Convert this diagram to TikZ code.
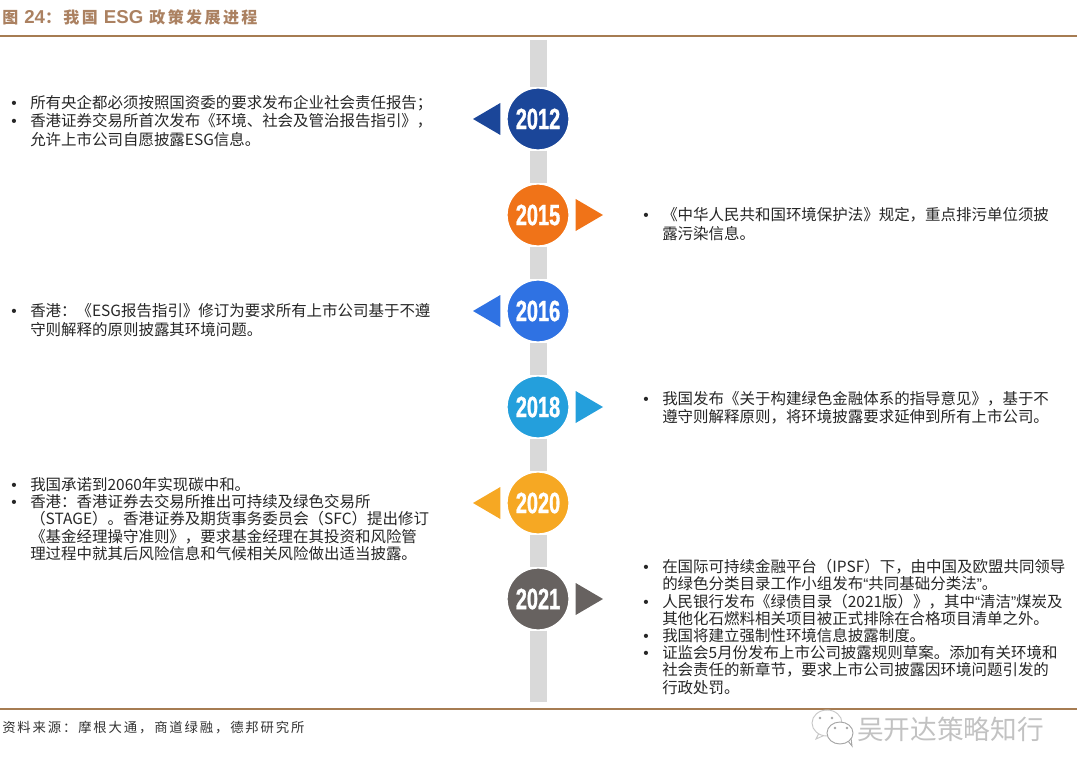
\documentclass[tikz,border=0pt]{standalone}
\usepackage{fontspec}
\setmainfont{Noto Sans CJK SC}
\newfontfamily\capfont[LetterSpace=15]{Noto Sans CJK SC}
\newfontfamily\srcfont[LetterSpace=14]{Noto Sans CJK SC}
\newfontfamily\latfont{Liberation Sans}
\newfontfamily\yearfont[FakeStretch=0.68,FakeBold=1,UprightFont={* Bold}]{Liberation Sans}
\usetikzlibrary{shapes.geometric, positioning}
\definecolor{c2012}{HTML}{1B4699}
\definecolor{c2015}{HTML}{F07318}
\definecolor{c2016}{HTML}{2F72E3}
\definecolor{c2018}{HTML}{249FDC}
\definecolor{c2020}{HTML}{F6A823}
\definecolor{c2021}{HTML}{676260}
\definecolor{railgray}{HTML}{D9D9D9}
\definecolor{rulebrown}{HTML}{A67C52}
\definecolor{titlebrown}{HTML}{AB8161}
\newcommand{\bul}{\makebox[12.75pt][l]{\hspace{-1.5pt}{\latfont •}}}
\newcommand{\cont}{\makebox[12.75pt][l]{}}
\newcommand{\ql}{{\latfont “}}
\newcommand{\qr}{{\latfont ”}}

\begin{document}
\begin{tikzpicture}[
  x=0.75pt, y=-0.75pt,
  node distance=24.5pt,
  year/.style={circle, draw=white, line width=2pt, minimum size=47.5pt, inner sep=0pt, outer sep=0pt, text=white, font=\yearfont\fontsize{22}{22}\selectfont},
  rail/.style={railgray, line width=12.75pt},
  tipl/.style={isosceles triangle, isosceles triangle stretches, shape border rotate=180, minimum width=24pt, minimum height=20.5pt, inner sep=0pt, outer sep=0pt},
  tipr/.style={isosceles triangle, isosceles triangle stretches, minimum width=24pt, minimum height=20.5pt, inner sep=0pt, outer sep=0pt},
  note/.style={anchor=west, align=left, inner sep=0pt, font=\fontsize{11.6}{13.8}\selectfont, text=black!85},
  notetight/.style={note, font=\fontsize{11.6}{12.9}\selectfont},
  rulebar/.style={rulebrown, line width=1.6pt},
  bubble/.style={fill=white, line width=0.7pt}
]
\useasboundingbox (0,0) rectangle (1080,777);
% header and footer
\node[anchor=west, inner sep=0pt, text=titlebrown, font=\capfont\fontsize{12}{14}\selectfont\bfseries] (title) at (2,17) {图 {\latfont\bfseries\fontsize{14}{14}\selectfont 24}：我国 {\latfont\bfseries\fontsize{14}{14}\selectfont ESG} 政策发展进程};
\coordinate (headl) at (0,36);
\coordinate (headr) at (1077,36);
\draw[rulebar] (headl) -- (headr);
\coordinate (footl) at (0,709);
\coordinate (footr) at (1077,709);
\draw[rulebar] (footl) -- (footr);
\node[anchor=west, inner sep=0pt, text=black!80, font=\srcfont\fontsize{10}{12}\selectfont] (source) at (2,728) {资料来源：摩根大通，商道绿融，德邦研究所};
% timeline
\node[year, fill=c2012] (y2012) at (538,119) {2012};
\node[year, fill=c2015, below=of y2012] (y2015) {2015};
\node[year, fill=c2016, below=of y2015] (y2016) {2016};
\node[year, fill=c2018, below=of y2016] (y2018) {2018};
\node[year, fill=c2020, below=of y2018] (y2020) {2020};
\node[year, fill=c2021, below=of y2020] (y2021) {2021};
\coordinate (railtop) at (538,40);
\coordinate (railend) at (538,702);
\draw[rail] (railtop) -- (y2012);
\draw[rail] (y2012) -- (y2015);
\draw[rail] (y2015) -- (y2016);
\draw[rail] (y2016) -- (y2018);
\draw[rail] (y2018) -- (y2020);
\draw[rail] (y2020) -- (y2021);
\draw[rail] (y2021) -- (railend);
\node[tipl, fill=c2012, left=4.5pt of y2012] (t2012) {};
\node[tipr, fill=c2015, right=4.5pt of y2015] (t2015) {};
\node[tipl, fill=c2016, left=4.5pt of y2016] (t2016) {};
\node[tipr, fill=c2018, right=4.5pt of y2018] (t2018) {};
\node[tipl, fill=c2020, left=4.5pt of y2020] (t2020) {};
\node[tipr, fill=c2021, right=4.5pt of y2021] (t2021) {};
% notes
\node[note] (n2012) at (13,121) {\bul 所有央企都必须按照国资委的要求发布企业社会责任报告；\\\bul 香港证券交易所首次发布《环境、社会及管治报告指引》，\\\cont 允许上市公司自愿披露ESG信息。};
\node[note] (n2015) at (645,224) {\bul 《中华人民共和国环境保护法》规定，重点排污单位须披\\\cont 露污染信息。};
\node[note] (n2016) at (13,320) {\bul 香港：《ESG报告指引》修订为要求所有上市公司基于不遵\\\cont 守则解释的原则披露其环境问题。};
\node[note] (n2018) at (645,408) {\bul 我国发布《关于构建绿色金融体系的指导意见》，基于不\\\cont 遵守则解释原则，将环境披露要求延伸到所有上市公司。};
\node[notetight] (n2020) at (13,519) {\bul 我国承诺到2060年实现碳中和。\\\bul 香港：香港证券去交易所推出可持续及绿色交易所\\\cont （STAGE）。香港证券及期货事务委员会（SFC）提出修订\\\cont 《基金经理操守准则》，要求基金经理在其投资和风险管\\\cont 理过程中就其后风险信息和气候相关风险做出适当披露。};
\node[notetight] (n2021) at (645,627) {\bul 在国际可持续金融平台（IPSF）下，由中国及欧盟共同领导\\\cont 的绿色分类目录工作小组发布\ql 共同基础分类法\qr 。\\\bul 人民银行发布《绿债目录（2021版）》，其中\ql 清洁\qr 煤炭及\\\cont 其他化石燃料相关项目被正式排除在合格项目清单之外。\\\bul 我国将建立强制性环境信息披露制度。\\\bul 证监会5月份发布上市公司披露规则草案。添加有关环境和\\\cont 社会责任的新章节，要求上市公司披露因环境问题引发的\\\cont 行政处罚。};
% watermark
\draw[black!22, bubble] (819,733) -- (816,739) -- (825,735);
\draw[black!22, bubble] (827,723) ellipse (15 and 13);
\draw[black!35, bubble] (848,741) -- (852,746) -- (851,738);
\draw[black!35, bubble] (840,733) ellipse (13 and 11);
\fill[black!35] (820,718) circle (1.3) (832,718) circle (1.3) (835,728) circle (1.3) (847,728) circle (1.3);
\node[anchor=west, inner sep=0pt, text=black!24, font=\fontsize{20}{22}\selectfont] (mark) at (857,729) {吴开达策略知行};
\end{tikzpicture}
\end{document}
